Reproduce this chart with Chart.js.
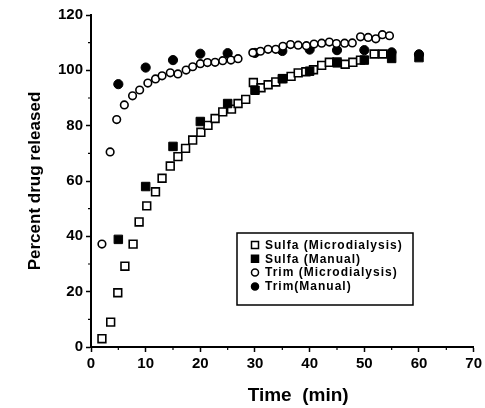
<!DOCTYPE html>
<html>
<head>
<meta charset="utf-8">
<script src="https://cdn.jsdelivr.net/npm/chart.js@4"></script>
<style>
  html, body { margin: 0; padding: 0; background: #fff; }
</style>
</head>
<body>
<canvas id="release-chart" width="485" height="408"></canvas>
<script>
// Datos (tiempo en min, % liberado)
const sulfaMicroTime = [2, 3.6, 4.9, 6.2, 7.7, 8.8, 10.2, 11.8, 13, 14.5, 15.9, 17.3, 18.6, 20.1, 21.4, 22.7, 24.1, 25.7, 26.9, 28.3, 29.7, 31.1, 32.4, 33.8, 35.1, 36.6, 37.9, 39.3, 40.7, 42.2, 43.6, 45, 46.5, 47.9, 49.3, 51.8, 53.4];
const sulfaMicroValue = [3, 9, 19.6, 29.2, 37.2, 45.2, 51, 56.1, 61, 65.4, 68.8, 71.8, 74.8, 77.6, 80.1, 82.6, 85, 86, 88, 89.5, 95.6, 93.7, 94.8, 95.8, 97, 97.8, 99.1, 99.5, 100.2, 101.8, 102.9, 103, 102.2, 102.9, 103.7, 105.9, 105.9];

const sulfaManualTime = [5, 10, 15, 20, 25, 30, 35, 40, 45, 50, 55, 60];
const sulfaManualValue = [38.9, 58, 72.5, 81.5, 88, 92.8, 97, 99.7, 102.7, 103.7, 104.3, 104.6];

const trimMicroTime = [2, 3.5, 4.7, 6.1, 7.6, 8.9, 10.4, 11.8, 13, 14.5, 15.9, 17.4, 18.6, 20, 21.3, 22.7, 24.1, 25.6, 26.9, 29.6, 31, 32.4, 33.8, 35.1, 36.5, 37.9, 39.4, 40.8, 42.2, 43.6, 44.9, 46.4, 47.8, 49.3, 50.7, 52.1, 53.3, 54.6];
const trimMicroValue = [37.2, 70.5, 82.2, 87.5, 90.8, 92.9, 95.4, 96.9, 98, 99.1, 98.7, 100.1, 101.3, 102.4, 102.8, 102.9, 103.5, 103.7, 104.2, 106.4, 106.9, 107.6, 107.6, 108.7, 109.3, 109.1, 108.9, 109.5, 109.8, 110.2, 109.7, 109.8, 109.9, 112.1, 111.9, 111.4, 112.9, 112.5];

const trimManualTime = [5, 10, 15, 20, 25, 30, 35, 40, 45, 50, 55, 60];
const trimManualValue = [95, 101, 103.7, 106, 106.2, 106.3, 107, 107.5, 107.3, 107.3, 106.5, 105.8];

const seriesLabels = ['Sulfa (Microdialysis)', 'Sulfa (Manual)', 'Trim (Microdialysis)', 'Trim(Manual)'];

const xTicks = [0, 10, 20, 30, 40, 50, 60, 70];
const yTicks = [0, 20, 40, 60, 80, 100, 120];
const xMinorTicks = [5, 15, 25, 35, 45, 55, 65];
const yMinorTicks = [10, 30, 50, 70, 90, 110];

const fontFamily = '"Liberation Sans", Arial, Helvetica, sans-serif';

// Une tiempos y valores en puntos {x, y}
function toPoints(times, values) {
    return times.map((t, i) => ({ x: t, y: values[i] }));
}

// Marcas menores en los ejes
const minorTicks = {
    id: 'minorTicks',
    afterDraw(chart) {
        const ctx = chart.ctx;
        const xScale = chart.scales.x;
        const yScale = chart.scales.y;
        ctx.save();
        ctx.strokeStyle = '#000';
        ctx.lineWidth = 1.2;
        ctx.beginPath();
        xMinorTicks.forEach(v => {
            const px = xScale.getPixelForValue(v);
            ctx.moveTo(px, xScale.top);
            ctx.lineTo(px, xScale.top + 3);
        });
        yMinorTicks.forEach(v => {
            const py = yScale.getPixelForValue(v);
            ctx.moveTo(yScale.right, py);
            ctx.lineTo(yScale.right - 3, py);
        });
        ctx.stroke();
        ctx.restore();
    }
};

// Leyenda con recuadro dentro del área del gráfico
const boxLegend = {
    id: 'boxLegend',
    afterDraw(chart) {
        const ctx = chart.ctx;
        const left = 237, top = 233, width = 176, height = 72;
        ctx.save();
        ctx.fillStyle = '#fff';
        ctx.fillRect(left, top, width, height);
        ctx.strokeStyle = '#000';
        ctx.lineWidth = 1.5;
        ctx.strokeRect(left, top, width, height);

        ctx.font = 'bold 12px ' + fontFamily;
        ctx.letterSpacing = '1px';
        ctx.textBaseline = 'middle';
        chart.data.datasets.forEach((ds, i) => {
            const y = top + 12 + i * 13.8;
            const x = left + 18;
            ctx.lineWidth = 1.5;
            ctx.strokeStyle = '#000';
            ctx.fillStyle = ds.backgroundColor;
            ctx.beginPath();
            if (ds.pointStyle === 'rect') {
                ctx.rect(x - 3.5, y - 3.5, 7, 7);
            } else {
                ctx.arc(x, y, 3.5, 0, Math.PI * 2);
            }
            ctx.fill();
            ctx.stroke();
            ctx.fillStyle = '#000';
            ctx.fillText(ds.label, left + 28, y + 0.5);
        });
        ctx.restore();
    }
};

const commonScale = {
    border: { display: true, color: '#000', width: 2 },
    grid: { display: true, drawOnChartArea: false, drawTicks: true, tickLength: 5, color: '#000', tickWidth: 1.5 }
};

const ctx = document.getElementById('release-chart').getContext('2d');
new Chart(ctx, {
    type: 'scatter',
    data: {
        datasets: [
            {
                label: seriesLabels[0],
                data: toPoints(sulfaMicroTime, sulfaMicroValue),
                pointStyle: 'rect',
                pointRadius: 5.5,
                backgroundColor: '#fff',
                borderColor: '#000',
                borderWidth: 1.6,
                order: 4
            },
            {
                label: seriesLabels[1],
                data: toPoints(sulfaManualTime, sulfaManualValue),
                pointStyle: 'rect',
                pointRadius: 6,
                backgroundColor: '#000',
                borderColor: '#000',
                borderWidth: 1,
                order: 3
            },
            {
                label: seriesLabels[2],
                data: toPoints(trimMicroTime, trimMicroValue),
                pointStyle: 'circle',
                pointRadius: 3.8,
                backgroundColor: '#fff',
                borderColor: '#000',
                borderWidth: 1.6,
                order: 1
            },
            {
                label: seriesLabels[3],
                data: toPoints(trimManualTime, trimManualValue),
                pointStyle: 'circle',
                pointRadius: 4.6,
                backgroundColor: '#000',
                borderColor: '#000',
                borderWidth: 1,
                order: 2
            }
        ]
    },
    options: {
        responsive: false,
        animation: false,
        layout: { padding: { top: 15, right: 9, left: 0, bottom: 0 } },
        plugins: {
            legend: { display: false },
            tooltip: { enabled: false }
        },
        scales: {
            x: {
                type: 'linear',
                min: 0,
                max: 70,
                ...commonScale,
                afterFit: (scale) => { scale.height = 61; },
                afterBuildTicks: (scale) => { scale.ticks = xTicks.map(v => ({ value: v })); },
                ticks: {
                    color: '#000',
                    padding: 3,
                    maxRotation: 0,
                    font: { family: fontFamily, size: 15, weight: 'bold' }
                },
                title: {
                    display: true,
                    text: '      Time  (min)',
                    color: '#000',
                    padding: { top: 0, bottom: 1 },
                    font: { family: fontFamily, size: 19, weight: 'bold' }
                }
            },
            y: {
                type: 'linear',
                min: 0,
                max: 120,
                ...commonScale,
                afterFit: (scale) => { scale.width = 91; },
                afterBuildTicks: (scale) => { scale.ticks = yTicks.map(v => ({ value: v })); },
                ticks: {
                    color: '#000',
                    padding: 3,
                    font: { family: fontFamily, size: 15, weight: 'bold' }
                },
                title: {
                    display: true,
                    text: 'Percent drug released',
                    color: '#000',
                    padding: { top: 25, bottom: 0 },
                    font: { family: fontFamily, size: 17, weight: 'bold' }
                }
            }
        }
    },
    plugins: [minorTicks, boxLegend]
});
</script>
</body>
</html>
